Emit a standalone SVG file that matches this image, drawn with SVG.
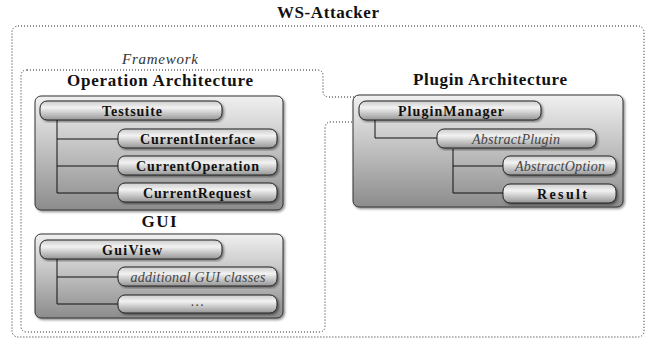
<svg xmlns="http://www.w3.org/2000/svg" width="649" height="344" viewBox="0 0 649 344">
<defs>
<linearGradient id="boxg" x1="0" y1="0" x2="0" y2="1">
<stop offset="0" stop-color="#f0f0f0"/>
<stop offset="1" stop-color="#8c8c8c"/>
</linearGradient>
<linearGradient id="pillg" x1="0" y1="0" x2="0" y2="1">
<stop offset="0" stop-color="#cccccc"/>
<stop offset="0.35" stop-color="#f2f2f2"/>
<stop offset="1" stop-color="#969696"/>
</linearGradient>
<filter id="sh" x="-5%" y="-5%" width="115%" height="120%">
<feDropShadow dx="1.5" dy="1.5" stdDeviation="1" flood-color="#000" flood-opacity="0.45"/>
</filter>
</defs>
<style>
.dot{fill:none;stroke:#222;stroke-width:1;stroke-dasharray:1 2}
.box{fill:url(#boxg);stroke:#333;stroke-width:1;filter:url(#sh)}
.pill{fill:url(#pillg);stroke:#222;stroke-width:1;filter:url(#sh)}
.ln{fill:none;stroke:#111;stroke-width:1}
.t{font-family:"Liberation Serif","DejaVu Serif",serif;text-anchor:middle}
.h{font-weight:bold;font-size:17px;fill:#111}
.b{font-weight:bold;font-size:14px;fill:#111}
.i{font-style:italic;font-size:14px;fill:#444}
.fw{font-style:italic;font-size:15px;fill:#333}
</style>
<g id="ws-attacker">
<rect class="dot" x="12" y="26" width="632" height="311" rx="6"/>
<text class="t h" x="328" y="18" textLength="102" lengthAdjust="spacing">WS-Attacker</text>
</g>
<g id="framework">
<path class="dot" d="M27 70 H317 Q323 70 323 76 V91 Q323 97 329 97 H539 Q545 97 545 103 V116 Q545 122 539 122 H331 Q325 122 325 128 V326 Q325 332 319 332 H27 Q21 332 21 326 V76 Q21 70 27 70 Z"/>
<text class="t fw" x="160" y="64" textLength="76" lengthAdjust="spacing">Framework</text>
</g>
<g id="operation-architecture">
<text class="t h" x="160" y="86" textLength="186" lengthAdjust="spacing">Operation Architecture</text>
<rect class="box" x="35" y="96" width="248" height="114" rx="6"/>
</g>
<g id="gui">
<text class="t h" x="159" y="227" textLength="35" lengthAdjust="spacing">GUI</text>
<rect class="box" x="35" y="234" width="248" height="84" rx="6"/>
</g>
<g id="plugin-architecture">
<text class="t h" x="490" y="85" textLength="154" lengthAdjust="spacing">Plugin Architecture</text>
<rect class="box" x="353" y="95" width="270" height="112" rx="6"/>
</g>
<g id="connectors">
<path class="ln" d="M57 120 V193 H118 M57 139 H118 M57 166 H118"/>
<path class="ln" d="M57 259 V304 H118 M57 277 H118"/>
<path class="ln" d="M375 120 V138 H437"/>
<path class="ln" d="M453 149 V193 H503 M453 166 H503"/>
</g>
<g id="testsuite"><rect class="pill" x="40" y="101" width="182" height="19" rx="7"/><text class="t b" x="132" y="115.5" textLength="60" lengthAdjust="spacing">Testsuite</text></g>
<g id="current-interface"><rect class="pill" x="118" y="129" width="159" height="19" rx="7"/><text class="t b" x="197.5" y="143.5" textLength="115" lengthAdjust="spacing">CurrentInterface</text></g>
<g id="current-operation"><rect class="pill" x="118" y="156" width="159" height="19" rx="7"/><text class="t b" x="197.5" y="170.5" textLength="123" lengthAdjust="spacing">CurrentOperation</text></g>
<g id="current-request"><rect class="pill" x="118" y="183" width="159" height="19" rx="7"/><text class="t b" x="197" y="197.5" textLength="108" lengthAdjust="spacing">CurrentRequest</text></g>
<g id="guiview"><rect class="pill" x="40" y="240" width="182" height="19" rx="7"/><text class="t b" x="132" y="254.5" textLength="60" lengthAdjust="spacing">GuiView</text></g>
<g id="additional-gui"><rect class="pill" x="118" y="267" width="159" height="19" rx="7"/><text class="t i" x="198" y="281.5" textLength="135" lengthAdjust="spacing">additional GUI classes</text></g>
<g id="more"><rect class="pill" x="118" y="295" width="159" height="18" rx="7"/><text class="t i" x="197.5" y="306" textLength="13" lengthAdjust="spacing">. . .</text></g>
<g id="plugin-manager"><rect class="pill" x="359" y="101" width="182" height="19" rx="7"/><text class="t b" x="451" y="115.5" textLength="106" lengthAdjust="spacing">PluginManager</text></g>
<g id="abstract-plugin"><rect class="pill" x="437" y="129" width="159" height="19" rx="7"/><text class="t i" x="516" y="143.5" textLength="88" lengthAdjust="spacing">AbstractPlugin</text></g>
<g id="abstract-option"><rect class="pill" x="503" y="156" width="113" height="19" rx="7"/><text class="t i" x="560" y="170.5" textLength="90" lengthAdjust="spacing">AbstractOption</text></g>
<g id="result"><rect class="pill" x="503" y="184" width="113" height="19" rx="7"/><text class="t b" x="562" y="198.5" textLength="50" lengthAdjust="spacing">Result</text></g>
</svg>
